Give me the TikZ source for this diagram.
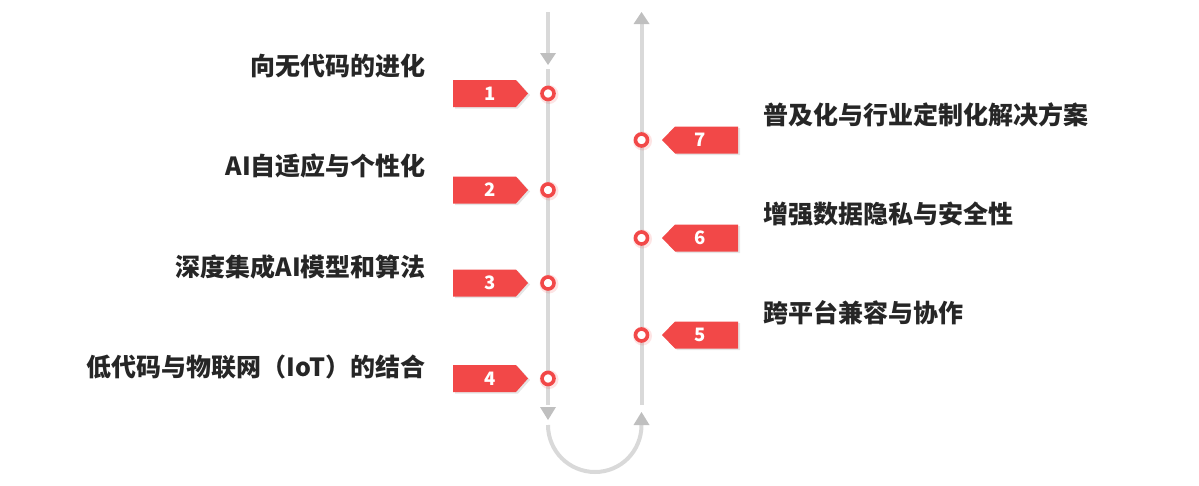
\documentclass[tikz,border=0pt]{standalone}
\usepackage{fontspec}
\newfontfamily\cjk{Noto Sans CJK SC}
\definecolor{tagred}{RGB}{242,72,72}
\definecolor{linegray}{RGB}{217,217,217}
\definecolor{tipgray}{RGB}{191,191,191}
\definecolor{txt}{RGB}{38,38,38}
\tikzset{
  track/.style={draw=linegray, line width=4pt},
  tip/.style={fill=tipgray, draw=none},
  dot/.style={circle, draw=tagred, line width=3.6pt, fill=white, minimum size=12pt, inner sep=0pt},
  num/.style={text=white, font=\cjk\bfseries\fontsize{18.5}{18.5}\selectfont, inner sep=0pt},
  lbl/.style={text=txt, font=\cjk\bfseries\fontsize{25}{26}\selectfont, inner sep=0pt},
}
\begin{document}
\begin{tikzpicture}[x=1pt,y=-1pt]
\useasboundingbox (0,0) rectangle (1199,485);
% tracks
\draw[track] (548,12) -- (548,53);
\fill[tip] (540,53) -- (556,53) -- (548,65) -- cycle;
\draw[track] (548,69) -- (548,405);
\fill[tip] (540,407) -- (556,407) -- (548,420) -- cycle;
\draw[track] (548,425) .. controls (548,451) and (569,472) .. (595,472)
  .. controls (621,472) and (641.5,451) .. (641.5,425);
\fill[tip] (633.5,425) -- (649.5,425) -- (641.5,412) -- cycle;
\draw[track] (641.5,24) -- (641.5,405);
\fill[tip] (633.5,24) -- (649.5,24) -- (641.5,12) -- cycle;
% left tags
\foreach \n/\y in {1/93.5, 2/190, 3/283, 4/378.5}{
  \fill[black, opacity=0.10] (455,\y-12) -- (518,\y-12) -- (530,\y+1.5) -- (518,\y+15) -- (455,\y+15) -- cycle;
  \fill[tagred] (453,\y-13.5) -- (516,\y-13.5) -- (528,\y) -- (516,\y+13.5) -- (453,\y+13.5) -- cycle;
  \node[num] (t\n) at (490,\y) {\n};
  \fill[tagred, opacity=0.15] (549,\y+1) circle (9.5pt);
  \node[dot] (c\n) at (548,\y) {};
}
% right tags
\foreach \n/\y in {7/140, 6/238, 5/335}{
  \fill[black, opacity=0.10] (740,\y-12) -- (677,\y-12) -- (664,\y+1.5) -- (677,\y+15) -- (740,\y+15) -- cycle;
  \fill[tagred] (738,\y-13.5) -- (675,\y-13.5) -- (662,\y) -- (675,\y+13.5) -- (738,\y+13.5) -- cycle;
  \node[num] (t\n) at (700,\y) {\n};
  \fill[tagred, opacity=0.15] (642.5,\y+1) circle (9.5pt);
  \node[dot] (c\n) at (641.5,\y) {};
}
% labels
\node[lbl, anchor=east] (l1) at (426,66) {向无代码的进化};
\node[lbl, anchor=east] (l2) at (426,166) {AI自适应与个性化};
\node[lbl, anchor=east] (l3) at (426,267) {深度集成AI模型和算法};
\node[lbl, anchor=east] (l4) at (426,367) {低代码与物联网（IoT）的结合};
\node[lbl, anchor=west] (l7) at (763,115) {普及化与行业定制化解决方案};
\node[lbl, anchor=west] (l6) at (763,214) {增强数据隐私与安全性};
\node[lbl, anchor=west] (l5) at (763,313) {跨平台兼容与协作};
\end{tikzpicture}
\end{document}
